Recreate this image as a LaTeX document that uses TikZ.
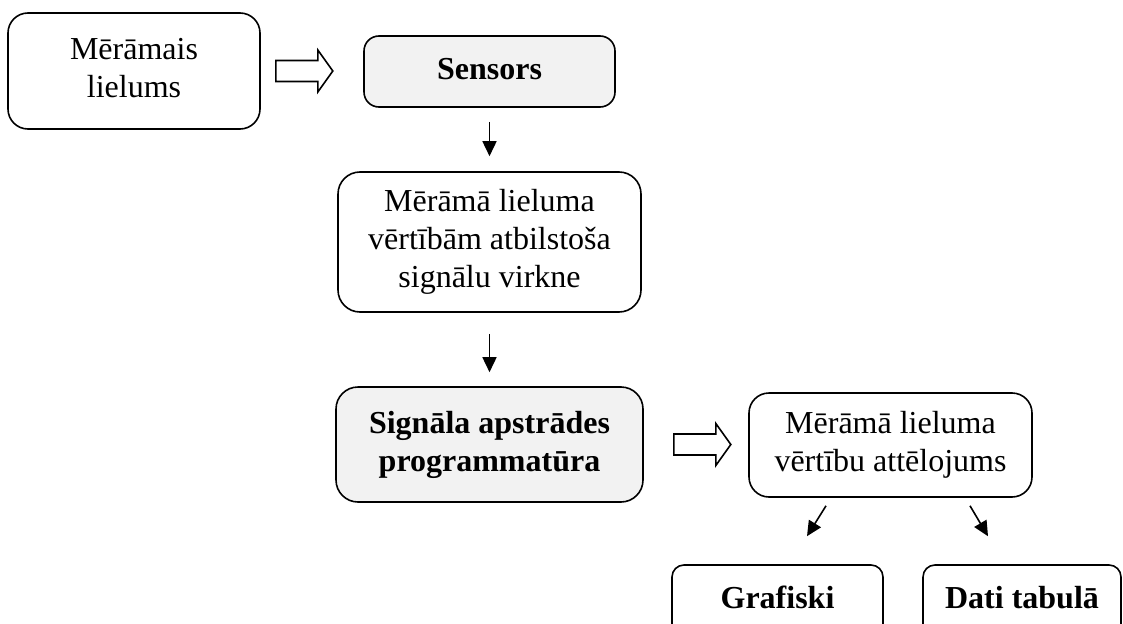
\documentclass[tikz,border=0pt]{standalone}
\usepackage{fontspec}
\setmainfont{Liberation Serif}
\usetikzlibrary{calc,arrows.meta}
\definecolor{boxgray}{HTML}{F2F2F2}
\tikzset{
  box/.style={draw=black, line width=1.6pt, rounded corners=20pt, align=center,
    inner sep=0pt, font=\fontsize{32pt}{38pt}\selectfont, text=black},
  graybox/.style={box, fill=boxgray},
  smallbox/.style={box, rounded corners=12pt},
  arr/.style={line width=1.6pt, -{Triangle[width=14pt,length=15pt]}},
  hollow/.style={draw=black, line width=1.6pt, fill=white, line join=miter},
}
\begin{document}
\begin{tikzpicture}[x=1pt,y=1pt]
\useasboundingbox (0,0) rectangle (1123,-623);
\clip (0,0) rectangle (1123,-623);
\node[box, minimum width=252pt, minimum height=116pt] (b1) at (134,-71)
  {Mērāmais\strut\\lielums\strut};
\node[graybox, rounded corners=15pt, minimum width=251pt, minimum height=71pt] (s) at (489.5,-71.5)
  {\textbf{Sensors}\strut};
\node[box, rounded corners=22pt, minimum width=303pt, minimum height=140pt] (b2) at (489.5,-242)
  {Mērāmā lieluma\strut\\vērtībām atbilstoša\strut\\signālu virkne\strut};
\node[graybox, rounded corners=22pt, minimum width=307pt, minimum height=115pt] (sig) at (489.5,-444.5)
  {\textbf{Signāla apstrādes}\strut\\\textbf{programmatūra}\strut};
\node[box, minimum width=283pt, minimum height=104pt] (b3) at (890.5,-445)
  {Mērāmā lieluma\strut\\vērtību attēlojums\strut};
\node[smallbox, minimum width=211pt, minimum height=71pt] (g) at (777.5,-600.5)
  {\textbf{Grafiski}\strut};
\node[smallbox, minimum width=198pt, minimum height=71pt] (d) at (1022,-600.5)
  {\textbf{Dati tabulā}\strut};
% block arrows
\draw[hollow] ($(b1.east)+(15,10.5)$) -- ++(42,0) -- ++(0,10.5)
  -- ($(b1.east)+(72,0)$) -- ($(b1.east)+(57,-21)$) -- ++(0,10.5)
  -- ($(b1.east)+(15,-10.5)$) -- cycle;
\draw[hollow] ($(sig.east)+(30,10.5)$) -- ++(42,0) -- ++(0,10.5)
  -- ($(sig.east)+(87,0)$) -- ($(sig.east)+(72,-21)$) -- ++(0,10.5)
  -- ($(sig.east)+(30,-10.5)$) -- cycle;
% thin arrows
\draw[arr] ($(s.south)+(0,-14)$) -- ($(b2.north)+(0,15)$);
\draw[arr] ($(b2.south)+(0,-21)$) -- ($(sig.north)+(0,14)$);
\draw[arr] ($(b3.south)+(-64.5,-8)$) -- ($(g.north)+(29.5,28)$);
\draw[arr] ($(b3.south)+(79.5,-8)$) -- ($(d.north)+(-34,28)$);
\end{tikzpicture}
\end{document}
